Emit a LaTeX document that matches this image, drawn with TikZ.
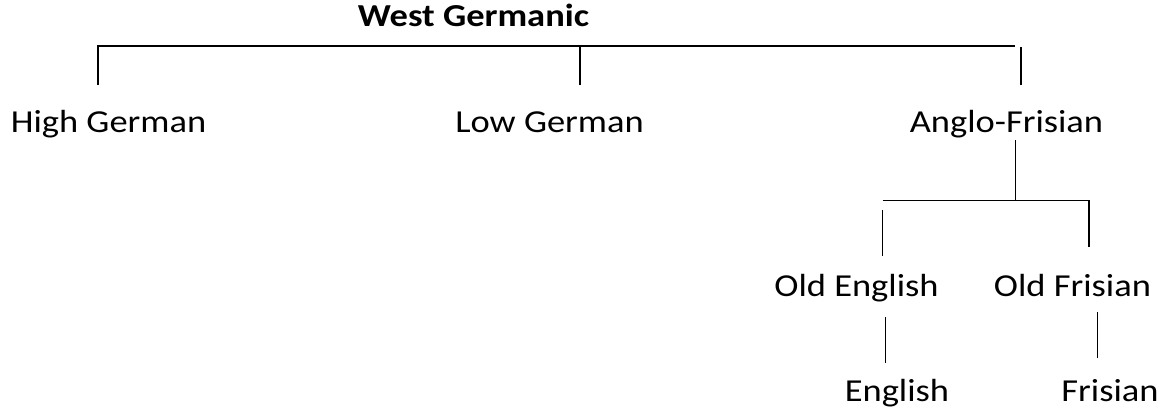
\documentclass[tikz,border=0pt]{standalone}
\usepackage{fontspec}
\setmainfont{Carlito}[FakeStretch=1.14]
\begin{document}
\begin{tikzpicture}[x=1pt,y=-1pt,
  lbl/.style={anchor=base,inner sep=0pt,font=\fontsize{32}{38}\selectfont},
  head/.style={lbl,font=\fontsize{32}{38}\selectfont\bfseries},
  thick line/.style={line width=1.6pt},
  thin line/.style={line width=1.3pt}]
\useasboundingbox (0,0) rectangle (1167,416);
\node[head] (wg) at (473.5,26.7) {West Germanic};
\node[lbl] (hg) at (108.5,132.3) {High German};
\node[lbl] (lg) at (549.5,132.3) {Low German};
\node[lbl] (af) at (1006.5,132.3) {Anglo-Frisian};
\node[lbl] (oe) at (856.5,296.7) {Old English};
\node[lbl] (of) at (1072.5,296.7) {Old Frisian};
\node[lbl] (en) at (897,401.7) {English};
\node[lbl] (fr) at (1110,401.7) {Frisian};
% top bracket
\coordinate (tl) at (97.7,46);
\coordinate (tr) at (1015,46);
\coordinate (hgt) at (97.7,85);
\coordinate (lgs) at (580,46);
\coordinate (lgt) at (580,85);
\coordinate (afs) at (1020.7,47);
\coordinate (aft) at (1020.7,85);
\draw[thick line] (hgt) -- (tl) -- (tr);
\draw[thick line] (lgs) -- (lgt);
\draw[thick line] (afs) -- (aft);
% Anglo-Frisian branch
\coordinate (afb) at (1015.5,140);
\coordinate (afm) at (1015.5,200.7);
\coordinate (bl) at (882.7,200.7);
\coordinate (br) at (1089,200.7);
\coordinate (oes) at (882.7,210);
\coordinate (oet) at (882.7,256);
\coordinate (oft) at (1089,247);
\draw[thin line] (afb) -- (afm);
\draw[thin line] (bl) -- (br) -- (oft);
\draw[thin line] (oes) -- (oet);
% descendants
\coordinate (e1) at (885.7,317);
\coordinate (e2) at (885.7,363);
\coordinate (f1) at (1097.7,312);
\coordinate (f2) at (1097.7,358);
\draw[thin line] (e1) -- (e2);
\draw[thin line] (f1) -- (f2);
\end{tikzpicture}
\end{document}
